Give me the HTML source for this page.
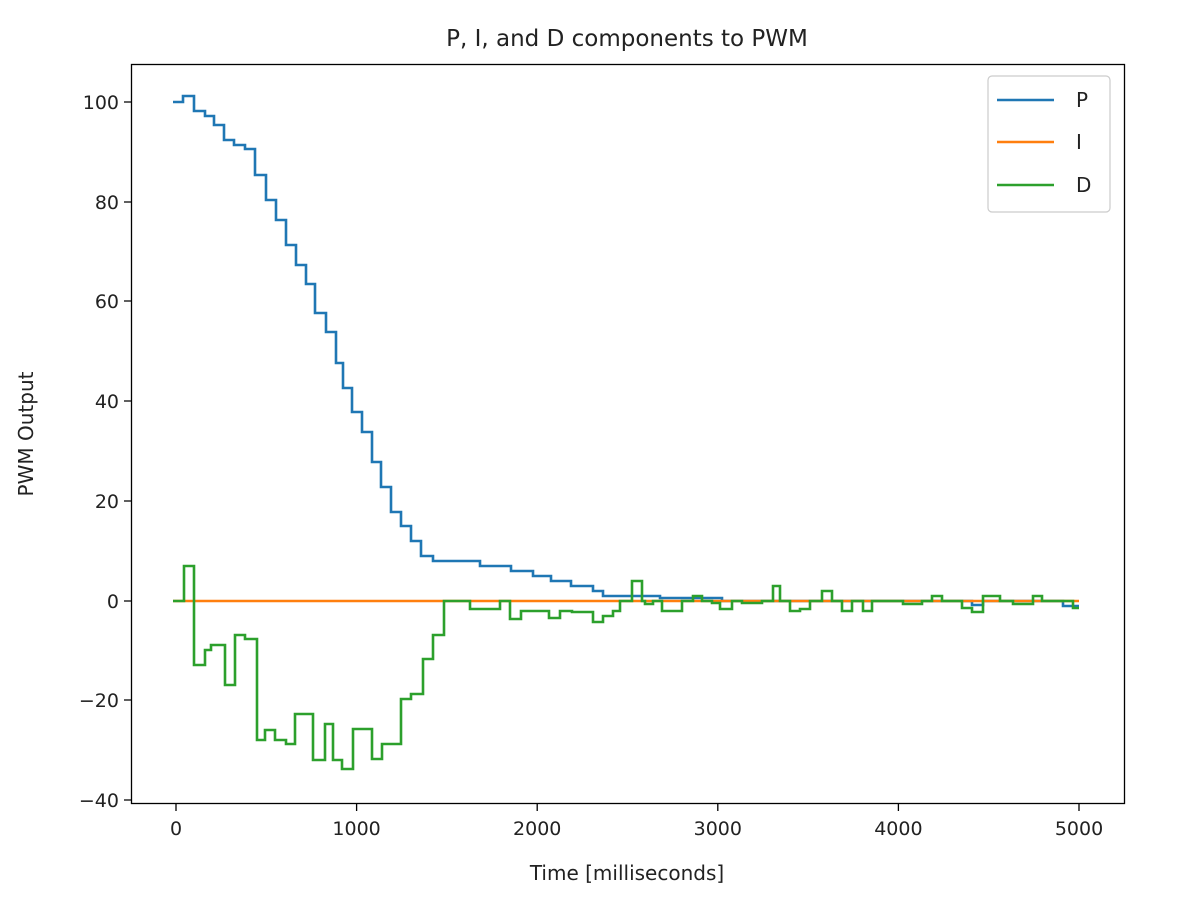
<!DOCTYPE html>
<html><head><meta charset="utf-8"><style>body{margin:0;background:#fff}svg{display:block}text{font-family:"DejaVu Sans","Liberation Sans",sans-serif;fill:#222}</style></head>
<body>
<svg width="1196" height="918" viewBox="0 0 1196 918" xmlns="http://www.w3.org/2000/svg">
<text x="627" y="46" font-size="23" text-anchor="middle">P, I, and D components to PWM</text>
<g fill="none" stroke-width="2.6" stroke-linejoin="miter">
<path stroke="#1f77b4" d="M173,102 H183 V96 H194 V111 H205 V116 H214 V125 H224 V140 H234 V145 H245 V149 H255 V175 H266 V200 H276 V220 H286 V245 H296 V265 H306 V284 H315 V313 H326 V332 H336 V363 H343 V388 H352 V412 H362 V432 H372 V462 H381 V487 H391 V512 H401 V526 H411 V541 H421 V556 H433 V561 H480 V566 H511 V571 H533 V576 H551 V581 H571 V586 H593 V591 H603 V596 H660 V598 H722 V601 H972 V605 H983 V601 H1063 V606 H1079"/>
<path stroke="#ff7f0e" d="M173,601 H1079"/>
<path stroke="#2ca02c" d="M173,601 H184 V566 H194 V665 H205 V650 H211 V645 H225 V685 H235 V635 H245 V639 H257 V740 H265 V730 H275 V740 H286 V744 H295 V714 H313 V760 H325 V724 H333 V760 H342 V769 H353 V729 H372 V759 H382 V744 H401 V699 H411 V694 H423 V659 H433 V635 H444 V601 H470 V609 H500 V601 H510 V619 H521 V611 H549 V618 H560 V611 H572 V612 H593 V622 H603 V616 H613 V611 H620 V601 H632 V581 H642 V601 H645 V604 H653 V601 H662 V611 H682 V601 H693 V596 H702 V601 H712 V603 H720 V609 H732 V601 H742 V603 H762 V601 H773 V586 H780 V601 H790 V611 H800 V609 H810 V601 H822 V591 H832 V601 H842 V611 H852 V601 H863 V611 H872 V601 H903 V604 H922 V601 H932 V596 H942 V601 H962 V608 H972 V612 H983 V596 H1000 V601 H1013 V604 H1033 V596 H1042 V601 H1073 V608 H1079"/>
</g>
<rect x="131.5" y="64.5" width="993" height="739" fill="none" stroke="#000" stroke-width="1.3"/>
<g stroke="#000" stroke-width="1.3">
<path d="M176,804v7M356.6,804v7M537.2,804v7M717.8,804v7M898.4,804v7M1079,804v7"/>
<path d="M131,102h-7M131,202h-7M131,301h-7M131,401h-7M131,501h-7M131,601h-7M131,700h-7M131,800h-7"/>
</g>
<g font-size="19" text-anchor="middle">
<text x="176" y="835">0</text><text x="356.6" y="835">1000</text><text x="537.2" y="835">2000</text><text x="717.8" y="835">3000</text><text x="898.4" y="835">4000</text><text x="1079" y="835">5000</text>
</g>
<g font-size="19" text-anchor="end">
<text x="119" y="109">100</text><text x="119" y="209">80</text><text x="119" y="308">60</text><text x="119" y="408">40</text><text x="119" y="508">20</text><text x="119" y="608">0</text><text x="119" y="707">−20</text><text x="119" y="807">−40</text>
</g>
<text x="627" y="880" font-size="20" text-anchor="middle">Time [milliseconds]</text>
<text transform="translate(33,434) rotate(-90)" font-size="20" text-anchor="middle">PWM Output</text>
<rect x="988" y="76" width="122" height="136" rx="4" fill="#fff" stroke="#ccc" stroke-width="1.2"/>
<g stroke-width="2.6"><path stroke="#1f77b4" d="M997,100H1054"/><path stroke="#ff7f0e" d="M997,142H1054"/><path stroke="#2ca02c" d="M997,185H1054"/></g>
<g font-size="20"><text x="1076" y="107">P</text><text x="1076" y="149">I</text><text x="1076" y="192">D</text></g>
</svg>
</body></html>
